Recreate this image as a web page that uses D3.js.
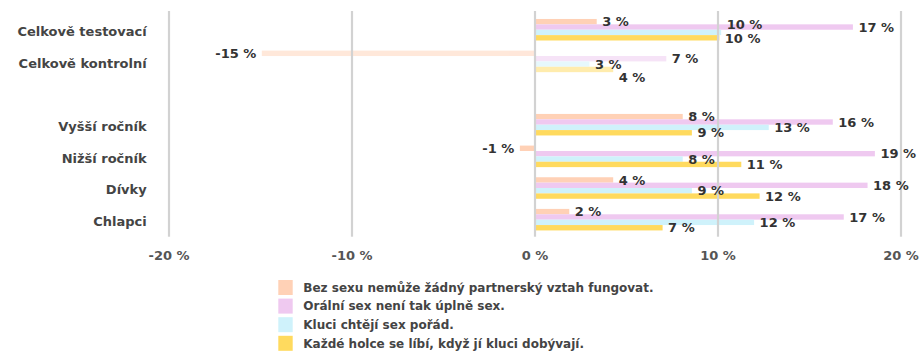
<!DOCTYPE html>
<html>
<head>
<meta charset="utf-8">
<script src="https://cdn.jsdelivr.net/npm/d3@7"></script>
<style>
  body { margin: 0; background: #fff; }
  text { font-family: "DejaVu Sans", sans-serif; font-weight: bold; }
</style>
</head>
<body>
<svg id="chart" width="922" height="353"></svg>
<script>
// Row labels (the empty entry leaves a spacer row between the totals and the subgroups)
const categories = ["Celkově testovací", "Celkově kontrolní", "", "Vyšší ročník", "Nižší ročník", "Dívky", "Chlapci"];

// Change in agreement, percentage points, one array per statement
const seriesNames = [
  "Bez sexu nemůže žádný partnerský vztah fungovat.",
  "Orální sex není tak úplně sex.",
  "Kluci chtějí sex pořád.",
  "Každé holce se líbí, když jí kluci dobývají."
];
const bezSexu = [3.4, -14.9, null, 8.1, -0.8, 4.3, 1.9];
const oralniSex = [17.4, 7.2, null, 16.3, 18.6, 18.2, 16.9];
const kluciChteji = [10.2, 3.0, null, 12.8, 8.1, 8.6, 12.0];
const kazdeHolce = [10.1, 4.3, null, 8.6, 11.3, 12.3, 7.0];

const xTicks = [-20, -10, 0, 10, 20];
const colors = ["#ffd1b6", "#efc9f0", "#cff2fb", "#ffda5e"];
const fadedRow = "Celkově kontrolní";

const seriesValues = [bezSexu, oralniSex, kluciChteji, kazdeHolce];
const fmt = v => `${Math.round(v)} %`;

const svg = d3.select("#chart");

const x = d3.scaleLinear().domain([-20, 20]).range([168.5, 900.5]);
const y = d3.scaleBand().domain(categories).range([13.9, 235.5])
  .paddingInner(0.32).paddingOuter(0.16);
const yInner = d3.scaleBand().domain(d3.range(seriesNames.length)).range([0, y.bandwidth()]);

// Bars
const rows = svg.append("g").selectAll("g.row")
  .data(categories.map((c, i) => ({ cat: c, idx: i })))
  .join("g")
  .attr("class", "row")
  .attr("transform", d => `translate(0,${y(d.cat)})`)
  .attr("opacity", d => d.cat === fadedRow ? 0.5 : 1);

rows.selectAll("rect")
  .data(d => seriesValues.map((vals, s) => ({ s, v: vals[d.idx] })).filter(e => e.v != null))
  .join("rect")
  .attr("x", e => x(Math.min(0, e.v)))
  .attr("width", e => Math.abs(x(e.v) - x(0)))
  .attr("y", e => yInner(e.s))
  .attr("height", yInner.bandwidth())
  .attr("fill", e => colors[e.s]);

// Grid lines drawn over the bars
const grid = svg.append("g")
  .attr("transform", "translate(0,236.7)")
  .call(d3.axisBottom(x).tickValues(xTicks).tickSize(-(236.7 - 11)).tickFormat(""));
grid.select(".domain").remove();
grid.selectAll("line").attr("stroke", "#d2d2d2").attr("stroke-width", 2.2);

// X axis labels
const xAxis = svg.append("g")
  .attr("transform", "translate(0,241)")
  .call(d3.axisBottom(x).tickValues(xTicks).tickSize(0).tickFormat(d => `${d} %`));
xAxis.select(".domain").remove();
xAxis.selectAll("text")
  .attr("fill", "#555")
  .attr("font-size", 13)
  .attr("font-family", "DejaVu Sans, sans-serif")
  .attr("font-weight", "bold")
  .attr("dy", "1.2em");

// Category labels
svg.append("g").selectAll("text")
  .data(categories.filter(c => c !== ""))
  .join("text")
  .attr("x", 146.7)
  .attr("y", c => y(c) + y.bandwidth() / 2 + 6.3)
  .attr("text-anchor", "end")
  .attr("font-size", 13)
  .attr("fill", "#444")
  .text(c => c);

// Value labels, nudged apart vertically where they would collide
const labelLayer = svg.append("g");
categories.forEach((c, ci) => {
  if (c === "") return;
  const items = [];
  seriesValues.forEach((vals, s) => {
    const v = vals[ci];
    if (v == null) return;
    const t = labelLayer.append("text")
      .attr("font-size", 13)
      .attr("fill", "#333")
      .text(fmt(v));
    const w = t.node().getComputedTextLength();
    const x0 = v >= 0 ? x(v) + 5.5 : x(v) - 5.5 - w;
    const yc = y(c) + yInner(s) + yInner.bandwidth() / 2;
    items.push({ t, v, s, x0, x1: x0 + w, yc });
  });
  const minGap = 13.5;
  for (let i = 0; i < items.length; i++) {
    for (let j = i + 1; j < items.length; j++) {
      const a = items[i], b = items[j];
      const overlapX = a.x0 < b.x1 && b.x0 < a.x1;
      if (overlapX && Math.abs(b.yc - a.yc) < minGap) {
        if (Math.abs(b.v) >= Math.abs(a.v)) b.yc = a.yc + minGap;
        else a.yc = b.yc - minGap;
      }
    }
  }
  items.forEach(it => it.t.attr("x", it.x0).attr("y", it.yc + 4.7));
});

// Legend
const legend = svg.append("g").selectAll("g")
  .data(seriesNames.map((n, i) => ({ n, i })))
  .join("g")
  .attr("transform", d => `translate(278.3,${280 + d.i * 18.6})`);
legend.append("rect")
  .attr("width", 14.4).attr("height", 15)
  .attr("fill", d => colors[d.i]);
legend.append("text")
  .attr("x", 25)
  .attr("y", 7.5 + 4.4)
  .attr("font-size", 12)
  .attr("fill", "#444")
  .text(d => d.n);
</script>
</body>
</html>
